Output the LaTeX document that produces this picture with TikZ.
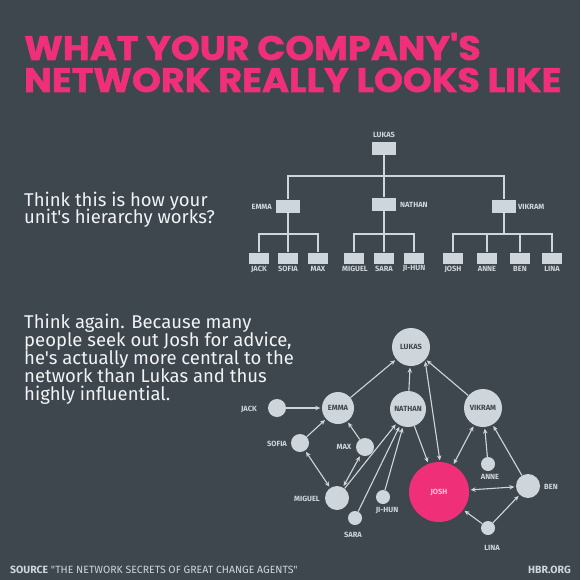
\documentclass[tikz,border=0pt]{standalone}
\usepackage{fontspec}
\setmainfont{Fira Sans}[Ligatures=TeXOff]
\newfontfamily\headfont[Ligatures=TeXOff, BoldFeatures={FakeBold=1.5}]{Poppins}
\usetikzlibrary{arrows.meta}
\definecolor{slate-bg}{HTML}{3E474E}
\definecolor{hot-pink}{HTML}{EF2F78}
\definecolor{pale}{HTML}{CFD6DB}
\definecolor{blush}{HTML}{F9C3D6}
\definecolor{chalk}{HTML}{F1F3F4}

\begin{document}
\begin{tikzpicture}[x=1pt, y=-1pt,
    every node/.style={font=\bfseries\fontsize{7.5}{8}\selectfont, text=pale, inner sep=0pt},
    headline/.style={anchor=base west, text=hot-pink, font=\headfont\bfseries\fontsize{34}{36}\selectfont},
    blurb/.style={anchor=base west, text=chalk, font=\fontsize{18.5}{19}\selectfont},
    orgbox/.style={fill=pale, minimum width=24pt, minimum height=13pt},
    leafbox/.style={fill=pale, minimum width=20pt, minimum height=11pt},
    link/.style={draw=pale, line width=1.4pt},
    person/.style={circle, fill=pale, text=slate-bg},
    tie/.style={draw=pale, line width=1.1pt, -{Stealth[length=5pt, width=4.5pt]}, shorten >=1.5pt},
    twoway/.style={draw=pale, line width=1.1pt, {Stealth[length=5pt, width=4.5pt]}-{Stealth[length=5pt, width=4.5pt]}, shorten >=1.5pt, shorten <=1.5pt}]
    \fill[slate-bg] (0,0) rectangle (580,580);
    \useasboundingbox (0,0) rectangle (580,580);

    % title and text
    \node[headline] (title-a) at (24,60) {\scalebox{1.08}[1]{WHAT YOUR COMPANY'S}};
    \node[headline] (title-b) at (24,92) {\scalebox{1.08}[1]{NETWORK REALLY LOOKS LIKE}};
    \node[blurb] (ask-a) at (24,206) {Think this is how your};
    \node[blurb] (ask-b) at (24,223) {unit's hierarchy works?};
    \node[blurb] (again-a) at (24,328) {Think again. Because many};
    \node[blurb] (again-b) at (24,346) {people seek out Josh for advice,};
    \node[blurb] (again-c) at (24,364) {he's actually more central to the};
    \node[blurb] (again-d) at (24,382) {network than Lukas and thus};
    \node[blurb] (again-e) at (24,400) {highly influential.};

    % org chart
    \node[orgbox] (h-lukas) at (384,148.5) {};
    \node[orgbox] (h-emma) at (288,206) {};
    \node[orgbox] (h-nathan) at (384,204) {};
    \node[orgbox] (h-vikram) at (504,206) {};
    \node[leafbox] (h-jack) at (259,258) {};
    \node[leafbox] (h-sofia) at (288,258) {};
    \node[leafbox] (h-max) at (318,258) {};
    \node[leafbox] (h-miguel) at (354,258) {};
    \node[leafbox] (h-sara) at (384,258) {};
    \node[leafbox] (h-jihun) at (414,258) {};
    \node[leafbox] (h-josh) at (453,258) {};
    \node[leafbox] (h-anne) at (487,258) {};
    \node[leafbox] (h-ben) at (520,258) {};
    \node[leafbox] (h-lina) at (552,258) {};
    \coordinate (top-rail) at (384,176);
    \coordinate (emma-rail) at (288,234);
    \coordinate (nathan-rail) at (384,234);
    \coordinate (vikram-rail) at (504,234);
    \draw[link] (h-lukas) -- (h-nathan);
    \draw[link] (h-emma.north) |- (top-rail) -| (h-vikram.north);
    \draw[link] (h-emma) -- (h-sofia);
    \draw[link] (h-jack.north) |- (emma-rail) -| (h-max.north);
    \draw[link] (h-nathan) -- (h-sara);
    \draw[link] (h-miguel.north) |- (nathan-rail) -| (h-jihun.north);
    \draw[link] (h-vikram.south) -- (vikram-rail);
    \draw[link] (h-josh.north) |- (vikram-rail) -| (h-lina.north);
    \draw[link] (h-anne.north) -- (h-anne.north |- vikram-rail);
    \draw[link] (h-ben.north) -- (h-ben.north |- vikram-rail);
    \node (hl-lukas) at (384,135) {LUKAS};
    \node[anchor=east] (hl-emma) at (272,207) {EMMA};
    \node[anchor=west] (hl-nathan) at (400,205) {NATHAN};
    \node[anchor=west] (hl-vikram) at (518,207) {VIKRAM};
    \node (hl-jack) at (259,269) {JACK};
    \node (hl-sofia) at (288,269) {SOFIA};
    \node (hl-max) at (318,269) {MAX};
    \node (hl-miguel) at (355,269) {MIGUEL};
    \node (hl-sara) at (384,269) {SARA};
    \node (hl-jihun) at (414,269) {JI-HUN};
    \node (hl-josh) at (453,269) {JOSH};
    \node (hl-anne) at (487,269) {ANNE};
    \node (hl-ben) at (520,269) {BEN};
    \node (hl-lina) at (552,269) {LINA};

    % advice network
    \node[person, minimum size=38pt] (n-lukas) at (411,347) {LUKAS};
    \node[person, minimum size=32pt] (n-emma) at (338,408) {EMMA};
    \node[person, minimum size=36pt] (n-nathan) at (408,409) {NATHAN};
    \node[person, minimum size=38pt] (n-vikram) at (483,408) {VIKRAM};
    \node[person, minimum size=18pt] (n-jack) at (277,408) {};
    \node[person, minimum size=18pt] (n-sofia) at (300,443) {};
    \node[person, minimum size=18pt] (n-max) at (365,447) {};
    \node[person, minimum size=24pt] (n-miguel) at (337,498) {};
    \node[person, minimum size=14pt] (n-sara) at (355,518) {};
    \node[person, minimum size=14pt] (n-jihun) at (383,497) {};
    \node[person, minimum size=60pt, fill=hot-pink, text=blush] (n-josh) at (439,492) {JOSH};
    \node[person, minimum size=14pt] (n-anne) at (488,464) {};
    \node[person, minimum size=24pt] (n-ben) at (528,486) {};
    \node[person, minimum size=14pt] (n-lina) at (488,528) {};
    \node (t-jack) at (249,409) {JACK};
    \node (t-sofia) at (277,444) {SOFIA};
    \node (t-max) at (344,447) {MAX};
    \node (t-miguel) at (307,499) {MIGUEL};
    \node (t-sara) at (353,535) {SARA};
    \node (t-jihun) at (387,511) {JI-HUN};
    \node (t-anne) at (490,477) {ANNE};
    \node (t-ben) at (551,487) {BEN};
    \node (t-lina) at (492,548) {LINA};
    \draw[tie] (n-jack) -- (n-emma);
    \draw[tie] (n-emma) -- (n-lukas);
    \draw[tie] (n-nathan) -- (n-lukas);
    \draw[tie] (n-vikram) -- (n-lukas);
    \draw[twoway] (n-josh.88) -- (n-lukas.-43);
    \draw[tie] (n-sofia) -- (n-emma);
    \draw[tie] (n-max) -- (n-emma);
    \draw[twoway] (n-sofia) -- (n-miguel);
    \draw[twoway] (n-max) -- (n-miguel);
    \draw[tie] (n-miguel) -- (n-nathan);
    \draw[tie] (n-sara) -- (n-nathan);
    \draw[tie] (n-jihun) -- (n-nathan);
    \draw[tie] (n-nathan) -- (n-josh);
    \draw[twoway] (n-vikram) -- (n-josh);
    \draw[tie] (n-anne) -- (n-vikram);
    \draw[tie] (n-ben) -- (n-vikram);
    \draw[twoway] (n-josh) -- (n-ben);
    \draw[tie] (n-lina) -- (n-josh);
    \draw[tie] (n-lina) -- (n-ben);

    % footer
    \node[anchor=base west, font=\fontsize{10.5}{12}\selectfont] (source) at (10,573)
      {\textbf{SOURCE} "THE NETWORK SECRETS OF GREAT CHANGE AGENTS"};
    \node[anchor=base east, font=\bfseries\fontsize{10.5}{12}\selectfont] (hbr) at (571,573) {HBR.ORG};
  \end{tikzpicture}
\end{document}
